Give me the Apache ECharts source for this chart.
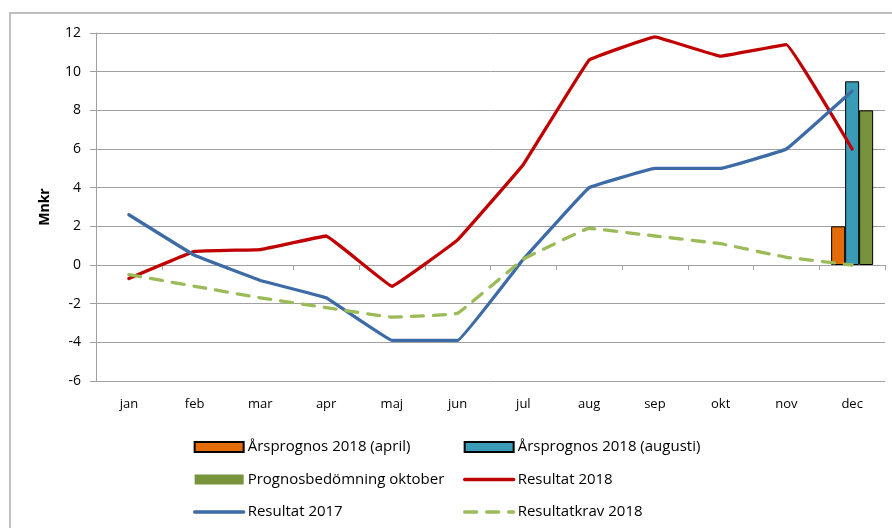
<!DOCTYPE html>
<html>
<head>
<meta charset="utf-8">
<script src="https://cdn.jsdelivr.net/npm/echarts@6/dist/echarts.min.js"></script>
<style>html,body{margin:0;padding:0;background:#fff}#c{width:892px;height:528px}</style>
</head>
<body>
<div id="c"></div>
<script>
const months = ['jan','feb','mar','apr','maj','jun','jul','aug','sep','okt','nov','dec'];
const arsprognosApril = ['-','-','-','-','-','-','-','-','-','-','-',2];
const arsprognosAugusti = ['-','-','-','-','-','-','-','-','-','-','-',9.5];
const prognosOktober = ['-','-','-','-','-','-','-','-','-','-','-',8];
const resultat2018 = [-0.7,0.7,0.8,1.5,-1.1,1.3,5.2,10.6,11.8,10.8,11.4,6.0];
const resultat2017 = [2.6,0.5,-0.8,-1.7,-3.9,-3.9,0.3,4.0,5.0,5.0,6.0,9.0];
const resultatkrav2018 = [-0.5,-1.1,-1.7,-2.2,-2.7,-2.5,0.3,1.9,1.5,1.1,0.4,0.0];
const yTicks = [-6,-4,-2,0,2,4,6,8,10,12];

const FONT = 'Open Sans';
const chart = echarts.init(document.getElementById('c'), null, {renderer:'canvas'});
const barBase = {type:'bar', xAxisIndex:0, barWidth:14, barGap:'0%', itemStyle:{borderColor:'#000', borderWidth:1}};
const lineBase = {type:'line', xAxisIndex:0, symbol:'none', smooth:0.05, lineStyle:{width:3.3, join:'round', cap:'round'}};
const hideSym = {opacity:0};
const legLine = {width:3.3};
const legText = {fontFamily:FONT, fontSize:15, color:'#000', padding:[0,0,0,-1], lineHeight:20};
chart.setOption({
  animation:false,
  textStyle:{fontFamily:FONT},
  graphic:[{type:'polyline', shape:{points:[[10,540],[10,13],[900,13]]}, style:{stroke:'#bfbfbf', lineWidth:2, fill:null}, silent:true}],
  grid:{left:96, top:33, width:789, height:348, containLabel:false},
  legend:[
    {orient:'vertical', left:193, top:437, padding:0, itemWidth:49, itemHeight:10, itemGap:12.5, textStyle:legText,
     data:[{name:'Årsprognos 2018 (april)', icon:'rect'},{name:'Prognosbedömning oktober', icon:'rect', itemStyle:{borderWidth:0}},{name:'Resultat 2017', itemStyle:hideSym, lineStyle:legLine}]},
    {orient:'vertical', left:463, top:437, padding:0, itemWidth:49, itemHeight:10, itemGap:12.5, textStyle:legText,
     data:[{name:'Årsprognos 2018 (augusti)', icon:'rect'},{name:'Resultat 2018', itemStyle:hideSym, lineStyle:legLine},{name:'Resultatkrav 2018', itemStyle:hideSym, lineStyle:legLine}]}
  ],
  xAxis:[
    {type:'category', data:months, boundaryGap:true,
     axisLine:{onZero:true, lineStyle:{color:'#a0a0a0', width:1}},
     axisTick:{show:true, length:5, inside:false, alignWithLabel:false, lineStyle:{color:'#a0a0a0'}},
     axisLabel:{show:false}, splitLine:{show:false}},
    {type:'category', data:months, boundaryGap:true, position:'bottom',
     axisLine:{show:false, onZero:false}, axisTick:{show:false},
     axisLabel:{show:true, fontFamily:FONT, fontSize:13, color:'#000', margin:17}}
  ],
  yAxis:{type:'value', min:-6, max:12, interval:2,
    name:'Mnkr', nameLocation:'middle', nameGap:44, nameRotate:90,
    nameTextStyle:{fontFamily:FONT, fontSize:14, fontWeight:'bold', color:'#000'},
    axisLine:{show:true, lineStyle:{color:'#a0a0a0', width:1}},
    axisTick:{show:true, length:6, lineStyle:{color:'#a0a0a0'}},
    axisLabel:{fontFamily:FONT, fontSize:14, color:'#000', margin:15,
      formatter:function(v){return yTicks.indexOf(v)>=0 ? String(v) : '';}},
    splitLine:{show:true, lineStyle:{color:'#a0a0a0', width:1}}},
  series:[
    Object.assign({}, barBase, {name:'Årsprognos 2018 (april)', data:arsprognosApril, itemStyle:Object.assign({}, barBase.itemStyle, {color:'#e36c09'})}),
    Object.assign({}, barBase, {name:'Årsprognos 2018 (augusti)', data:arsprognosAugusti, itemStyle:Object.assign({}, barBase.itemStyle, {color:'#3a9bb6'})}),
    Object.assign({}, barBase, {name:'Prognosbedömning oktober', data:prognosOktober, itemStyle:Object.assign({}, barBase.itemStyle, {color:'#77933c'})}),
    Object.assign({}, lineBase, {name:'Resultat 2018', data:resultat2018, color:'#c00000', lineStyle:Object.assign({}, lineBase.lineStyle, {color:'#c00000'})}),
    Object.assign({}, lineBase, {name:'Resultat 2017', data:resultat2017, color:'#3d6ba6', lineStyle:Object.assign({}, lineBase.lineStyle, {color:'#3d6ba6'})}),
    Object.assign({}, lineBase, {name:'Resultatkrav 2018', data:resultatkrav2018, color:'#9bbb59', lineStyle:Object.assign({}, lineBase.lineStyle, {color:'#9bbb59', type:[12,10]})})
  ]
});
</script>
</body>
</html>
